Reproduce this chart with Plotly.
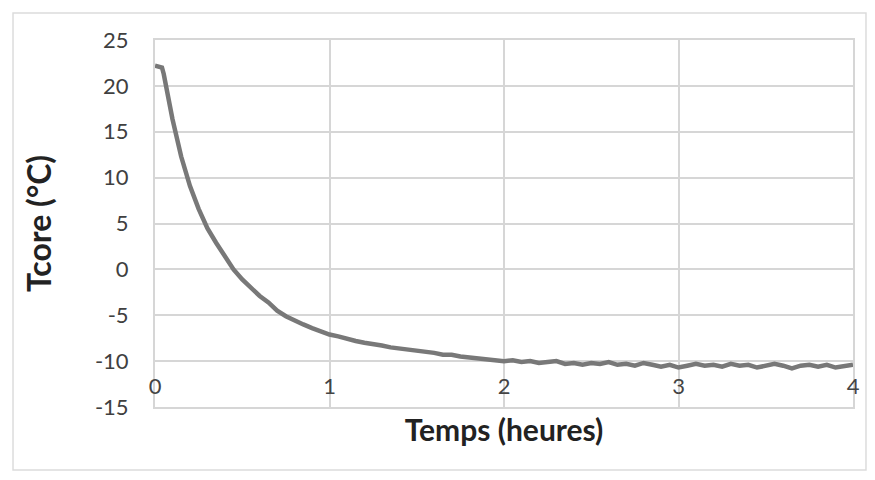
import plotly.graph_objects as go

# Time (hours) and core temperature (°C)
temps_h = [0.00, 0.04, 0.05, 0.10, 0.15, 0.20, 0.25, 0.30, 0.35, 0.40, 0.45,
           0.50, 0.55, 0.60, 0.65, 0.70, 0.75, 0.80, 0.85, 0.90, 0.95,
           1.00, 1.05, 1.10, 1.15, 1.20, 1.25, 1.30, 1.35, 1.40, 1.45,
           1.50, 1.55, 1.60, 1.65, 1.70, 1.75, 1.80, 1.85, 1.90, 1.95,
           2.00, 2.05, 2.10, 2.15, 2.20, 2.25, 2.30, 2.35, 2.40, 2.45,
           2.50, 2.55, 2.60, 2.65, 2.70, 2.75, 2.80, 2.85, 2.90, 2.95,
           3.00, 3.05, 3.10, 3.15, 3.20, 3.25, 3.30, 3.35, 3.40, 3.45,
           3.50, 3.55, 3.60, 3.65, 3.70, 3.75, 3.80, 3.85, 3.90, 3.95, 4.00]
tcore = [22.2, 22.0, 21.3, 16.4, 12.3, 9.1, 6.6, 4.5, 2.9, 1.4, 0.0,
         -1.1, -2.0, -2.9, -3.6, -4.5, -5.1, -5.6, -6.0, -6.4, -6.8,
         -7.1, -7.3, -7.6, -7.8, -8.0, -8.1, -8.3, -8.5, -8.6, -8.8,
         -8.8, -9.0, -9.1, -9.3, -9.3, -9.5, -9.6, -9.6, -9.8, -9.8,
         -10.0, -9.9, -10.1, -10.0, -10.2, -10.1, -10.0, -10.3, -10.2, -10.4,
         -10.2, -10.3, -10.1, -10.4, -10.3, -10.5, -10.2, -10.4, -10.6, -10.4,
         -10.7, -10.5, -10.3, -10.5, -10.4, -10.6, -10.3, -10.5, -10.4, -10.7,
         -10.5, -10.3, -10.5, -10.8, -10.5, -10.4, -10.6, -10.4, -10.7, -10.5, -10.4]

x_ticks = [0, 1, 2, 3, 4]
y_ticks = [-15, -10, -5, 0, 5, 10, 15, 20, 25]
y_labels = ["-15", "-10", "-5", "0", "5", "10", "15", "20", "25"]

FONT = "Lato"
GRID = "#d6d6d6"

fig = go.Figure()
fig.add_trace(go.Scatter(x=temps_h, y=tcore, mode="lines",
                         line=dict(color="#787878", width=4.5), showlegend=False))

# the page body adds an 8px offset, so margins are shifted to compensate
fig.update_layout(
    width=875, height=480,
    margin=dict(l=147, r=30, t=32, b=81),
    paper_bgcolor="white", plot_bgcolor="white",
    font=dict(family=FONT, color="#404040", size=22),
    xaxis=dict(range=[0, 4], tickvals=x_ticks, showgrid=True, gridcolor=GRID, gridwidth=2,
               zeroline=False, showline=True, linecolor=GRID, linewidth=2, mirror=True,
               ticklabelposition="inside", ticklabeloverflow="allow", ticks="",
               ticklabelstandoff=10,
               title=dict(text="<b>Temps (heures)</b>", font=dict(size=30, color="#222"), standoff=22)),
    yaxis=dict(range=[-15, 25], tickvals=y_ticks, ticktext=y_labels, showgrid=True,
               gridcolor=GRID, gridwidth=2,
               zeroline=False, showline=True, linecolor=GRID, linewidth=2, mirror=True,
               ticks="", ticklabelstandoff=20,
               title=dict(text="<b>Tcore (°C)</b>", font=dict(size=32, color="#222"), standoff=34)),
    shapes=[dict(type="rect", xref="paper", yref="paper",
                 x0=-0.2034, x1=1.0186, y0=-0.172, y1=1.0736,
                 line=dict(color="#dcdcdc", width=1.5))],
)

fig.write_html("out.html")
